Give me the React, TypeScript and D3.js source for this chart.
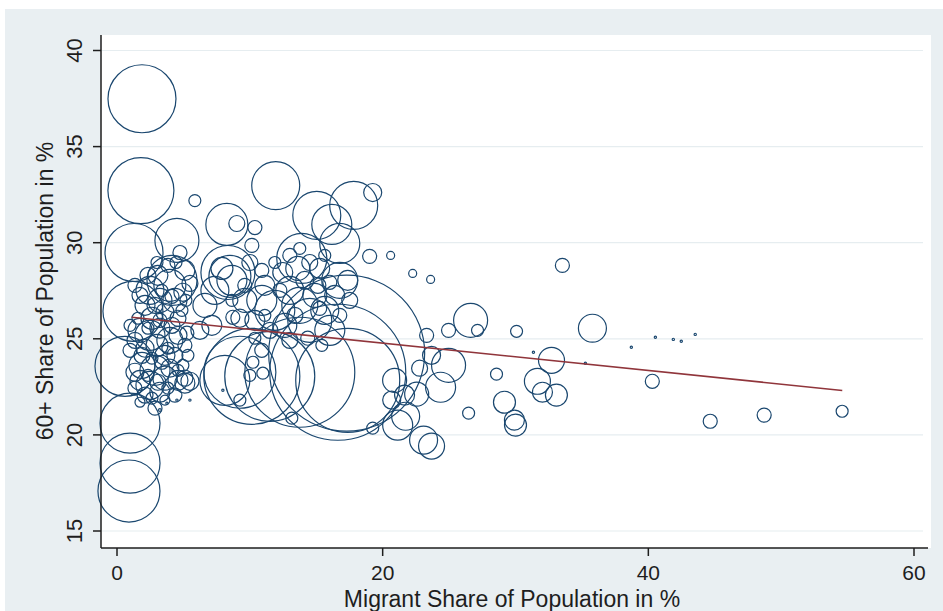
import React from "react";
import * as d3 from "d3";

// Migrant share of population (%) per region
const migrantShare = [
  1.88, 1.8, 1.28, 1.2, 0.6, 0.98, 0.98, 0.9, 4.51,
  5.86, 11.95, 8.27, 9.02, 10.38, 10.15, 17.82, 19.25, 15.04, 16.17, 19.02, 20.6, 22.26, 23.61, 16.77,
  8.35, 8.5, 8.65, 7.9, 13.91, 16.77, 17.37, 4.14,
  10.9, 11.88, 13.01, 13.76, 14.89, 14.51, 15.64, 12.63, 10.38, 16.02, 13.61, 12.48, 14.14, 15.26,
  9.62, 9.25, 11.13, 16.39, 17.52, 13.01, 6.62, 7.14, 7.37, 6.24,
  2.48, 3.23, 2.11, 3.98, 3.08, 4.36, 4.96, 1.73, 3.61, 2.63, 4.59, 5.49, 3.83, 5.11,
  1.73, 2.48, 3.23, 3.98, 2.11, 3.01, 4.59, 5.11, 1.35, 3.61,
  1.88, 2.86, 3.61, 1.73, 2.48, 3.98, 4.59, 5.11, 3.23, 2.11, 5.49, 1.35, 4.36,
  2.86, 5.26, 4.74, 5.11, 3.76, 4.51, 5.49, 7.97, 3.23,
  8.72, 10.9, 10.23, 10.0, 10.98, 9.25, 13.16, 19.25,
  17.29, 16.62, 17.37, 13.76, 11.5, 10.15, 9.25, 8.12,
  21.13, 23.08, 23.68, 24.36, 24.96, 23.31, 24.96, 26.62, 27.14, 26.47, 28.57, 29.17, 30.0, 29.92,
  30.08, 31.65, 32.03, 32.71, 33.08, 33.53, 35.79, 40.3, 44.66, 48.72, 54.59,
  22.56, 21.73, 20.9, 21.65, 20.68, 22.78, 23.68,
  38.72, 40.53, 41.88, 42.48, 43.53, 31.35, 35.26,
  1.35, 2.33, 3.38, 4.14, 2.86, 1.58, 3.23, 4.14, 2.33, 4.89,
  0.98, 1.88, 2.63, 3.38, 4.36, 4.96, 1.35, 2.33, 3.08, 3.83,
  4.59, 2.63, 3.61, 1.73, 5.34, 0.98, 3.83, 3.01, 4.44, 5.19,
  10.0, 10.9, 11.88, 13.01, 14.51, 15.64, 15.12, 16.02, 13.39, 14.36,
  15.42, 11.51, 10.38, 9.62, 8.65, 15.26, 16.77, 12.26, 11.13, 13.76,
];

// Share of population aged 60+ (%)
const elderlyShare = [
  37.49, 32.71, 29.49, 26.43, 23.57, 20.61, 18.53, 17.08, 30.12,
  32.19, 32.97, 30.95, 31.0, 30.79, 29.86, 31.94, 32.61, 31.42, 30.95, 29.29, 29.34, 28.4, 28.09, 29.96,
  28.45, 28.25, 28.04, 28.66, 29.18, 28.04, 28.04, 28.04,
  27.0, 26.48, 27.52, 26.74, 27.26, 25.96, 26.48, 25.7, 25.96, 25.44, 28.66, 28.45, 28.04, 28.66,
  27.0, 26.07, 27.78, 27.26, 27.0, 24.92, 26.74, 25.7, 27.52, 25.44,
  27.52, 27.0, 26.74, 27.78, 28.3, 27.0, 27.42, 27.26, 26.38, 26.07, 26.07, 27.88, 28.82, 28.56,
  25.44, 25.18, 25.55, 24.92, 24.51, 24.66, 25.18, 24.66, 24.92, 24.14,
  23.62, 23.36, 22.95, 22.84, 22.58, 23.47, 22.84, 22.95, 22.22, 22.07, 22.79, 23.26, 22.07,
  21.39, 25.29, 29.49, 22.69, 21.65, 21.81, 21.81, 22.32, 21.29,
  26.12, 24.4, 23.78, 23.1, 23.21, 21.81, 20.87, 20.35,
  24.25, 23.26, 22.84, 23.26, 23.05, 23.05, 23.26, 22.84,
  20.51, 19.73, 19.42, 22.48, 23.62, 25.18, 25.44, 25.96, 25.44, 21.13, 23.16, 21.7, 20.51, 20.77,
  25.39, 22.79, 22.22, 23.88, 22.07, 28.82, 25.55, 22.79, 20.71, 21.03, 21.23,
  22.12, 20.97, 22.84, 22.07, 21.81, 23.47, 24.14,
  24.56, 25.08, 24.97, 24.87, 25.23, 24.3, 23.73,
  27.78, 28.3, 27.52, 27.21, 26.74, 26.07, 25.96, 25.7, 25.55, 26.48,
  24.4, 24.14, 23.99, 23.78, 24.14, 23.62, 22.43, 23.1, 22.74, 22.43,
  23.36, 21.91, 21.81, 21.7, 24.14, 25.7, 24.51, 28.97, 28.97, 27.0,
  28.97, 28.56, 28.97, 29.34, 28.97, 29.34, 27.78, 27.94, 26.22, 25.03,
  24.66, 25.44, 25.03, 27.78, 27.0, 26.58, 26.22, 27.52, 26.22, 29.7,
];

// Population (millions), used as bubble weight
const population = [
  18.06, 17.02, 13.14, 14.06, 14.06, 14.06, 14.06, 15.02, 7.56,
  0.56, 9.0, 6.89, 1.0, 0.77, 0.77, 9.0, 1.27, 9.0, 6.25, 0.77, 0.25, 0.25, 0.25, 6.25,
  11.39, 6.89, 3.52, 1.89, 9.77, 5.06, 1.56, 9.77,
  3.52, 6.25, 3.06, 5.06, 2.25, 7.56, 3.06, 2.25, 1.56, 3.52, 2.25, 1.56, 1.27, 1.56,
  2.25, 1.27, 1.56, 1.56, 1.0, 1.0, 2.25, 1.56, 3.06, 1.27,
  3.06, 2.25, 1.56, 4.0, 1.56, 2.25, 1.27, 1.0, 1.27, 1.89, 1.0, 1.0, 0.77, 1.56,
  2.25, 3.52, 1.56, 2.64, 1.27, 1.89, 1.27, 0.77, 1.0, 1.56,
  2.64, 3.52, 2.25, 1.56, 3.06, 1.27, 1.56, 1.0, 1.56, 1.0, 1.27, 1.27, 0.77,
  0.77, 0.77, 0.77, 1.56, 0.02, 0.02, 0.02, 0.02, 0.03,
  0.77, 0.77, 0.56, 0.56, 0.56, 0.56, 0.56, 0.56,
  95.06, 72.25, 42.25, 47.27, 31.64, 36.0, 20.25, 9.77,
  3.52, 3.06, 2.64, 3.52, 4.52, 0.77, 0.77, 4.52, 0.56, 0.56, 0.56, 1.89, 1.89, 1.56,
  0.56, 2.64, 1.56, 2.64, 1.89, 0.77, 3.06, 0.77, 0.77, 0.77, 0.56,
  2.25, 3.06, 2.25, 1.56, 1.27, 1.0, 1.27,
  0.02, 0.02, 0.02, 0.02, 0.02, 0.02, 0.02,
  0.77, 1.0, 0.56, 0.77, 1.0, 0.56, 0.77, 1.0, 0.56, 0.56,
  0.77, 1.0, 0.56, 0.77, 1.0, 0.56, 0.77, 0.56, 1.0, 0.56,
  0.56, 0.56, 0.39, 0.39, 0.56, 0.56, 0.56, 0.56, 0.56, 0.56,
  1.0, 0.77, 0.56, 0.77, 1.0, 0.56, 1.0, 0.77, 1.0, 0.77,
  0.56, 1.0, 0.56, 0.77, 0.56, 0.77, 0.77, 0.77, 0.56, 0.56,
];

const xTicks = [0, 20, 40, 60];
const yTicks = [15, 20, 25, 30, 35, 40];
// Linear fit: elderly share = intercept + slope * migrant share
const fitIntercept = 26.2;
const fitSlope = -0.0712;
const fitExtent = [1.1, 54.6];

const xTitle = "Migrant Share of Population in %";
const yTitle = "60+ Share of Population in %";

const W = 943;
const H = 611;
const plot = { left: 101, right: 931, top: 35, bottom: 548 };

const navy = "#1a476f";
const maroon = "#90353b";
const bg = "#e9eff2";
const grid = "#e6edf0";
const ink = "#1e1e1e";
const font = "'Liberation Sans', Arial, Helvetica, sans-serif";

export default function App() {
  const x = d3.scaleLinear().domain([0, 60]).range([117, 914]);
  const y = d3.scaleLinear().domain([15, 40]).range([531, 50.5]);
  const r = d3.scaleSqrt().domain([0, 100]).range([0, 80]);

  const points = migrantShare.map((m, i) => ({
    m,
    e: elderlyShare[i],
    p: population[i],
  }));

  const fitLine = d3
    .line<number>()
    .x((v) => x(v))
    .y((v) => y(fitIntercept + fitSlope * v));

  return (
    <svg
      width={W}
      height={H}
      style={{ position: "absolute", left: 0, top: 0, background: "#fff" }}
    >
      <rect x={5} y={9} width={W - 5} height={H - 9} fill={bg} />
      <rect
        x={plot.left}
        y={plot.top}
        width={plot.right - plot.left}
        height={plot.bottom - plot.top}
        fill="#fff"
      />
      {yTicks.map((t) => (
        <line
          key={"g" + t}
          x1={plot.left}
          x2={plot.right - 8}
          y1={y(t)}
          y2={y(t)}
          stroke={grid}
          strokeWidth={1.2}
        />
      ))}
      <g fill="none" stroke={navy} strokeWidth={1.2}>
        {points.map((d, i) => (
          <circle key={i} cx={x(d.m)} cy={y(d.e)} r={Math.max(r(d.p), 0.8)} />
        ))}
      </g>
      <path
        d={fitLine(fitExtent) || ""}
        fill="none"
        stroke={maroon}
        strokeWidth={1.6}
      />
      {/* axes */}
      <line
        x1={plot.left}
        x2={plot.left}
        y1={plot.top}
        y2={plot.bottom}
        stroke={ink}
        strokeWidth={1.5}
      />
      <line
        x1={plot.left}
        x2={plot.right - 3}
        y1={plot.bottom}
        y2={plot.bottom}
        stroke={ink}
        strokeWidth={1.5}
      />
      {yTicks.map((t) => (
        <g key={"yt" + t}>
          <line
            x1={plot.left - 8}
            x2={plot.left}
            y1={y(t)}
            y2={y(t)}
            stroke={ink}
            strokeWidth={1.5}
          />
          <text
            transform={`translate(82,${y(t)}) rotate(-90)`}
            textAnchor="middle"
            fontFamily={font}
            fontSize={22}
            fill={ink}
          >
            {t}
          </text>
        </g>
      ))}
      {xTicks.map((t) => (
        <g key={"xt" + t}>
          <line
            x1={x(t)}
            x2={x(t)}
            y1={plot.bottom}
            y2={plot.bottom + 8}
            stroke={ink}
            strokeWidth={1.5}
          />
          <text
            x={x(t)}
            y={580}
            textAnchor="middle"
            fontFamily={font}
            fontSize={21}
            fill={ink}
          >
            {t}
          </text>
        </g>
      ))}
      <text
        x={512}
        y={607}
        textAnchor="middle"
        fontFamily={font}
        fontSize={23}
        fill={ink}
      >
        {xTitle}
      </text>
      <text
        transform={`translate(53,291) rotate(-90)`}
        textAnchor="middle"
        fontFamily={font}
        fontSize={23}
        fill={ink}
      >
        {yTitle}
      </text>
    </svg>
  );
}
